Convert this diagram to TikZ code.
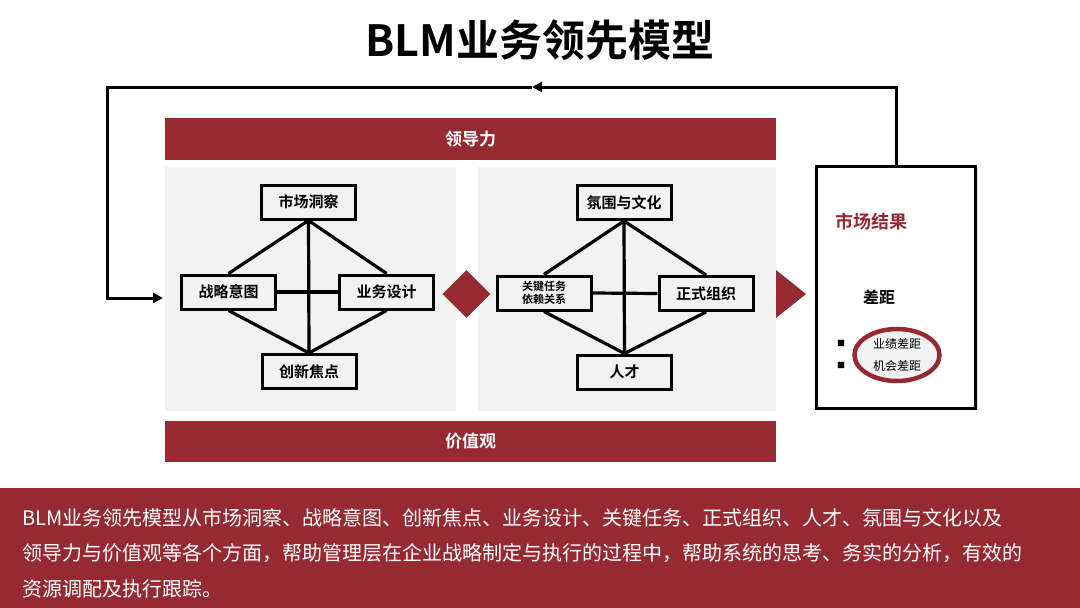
\documentclass[tikz,border=0pt]{standalone}
\usepackage{fontspec}
\setmainfont{Noto Sans CJK SC}[BoldFont={Noto Sans CJK SC Bold}]
\usetikzlibrary{
  arrows.meta,
  shapes.geometric,
  positioning,
  calc,
  shadows
}
\definecolor{blmred}{HTML}{962A32}
\definecolor{panelgray}{HTML}{F2F2F2}
\tikzset{
  % Red banner bar
  bannerbar/.style={
    fill=blmred, inner sep=0pt,
    minimum width=611pt, minimum height=42pt,
    text=white, font=\fontsize{17}{20}\selectfont\bfseries
  },
  % Grey panel
  panel/.style={
    fill=panelgray, inner sep=0pt,
    minimum width=#1, minimum height=244pt
  },
  % Element box
  elembox/.style={
    draw=black, line width=3pt, fill=panelgray, inner sep=0pt,
    minimum width=94pt, minimum height=34pt, align=center,
    font=\fontsize{15}{17}\selectfont\bfseries
  },
  % Links between boxes
  link/.style={
    line width=3.2pt
  },
  % Feedback loop arrow
  loopline/.style={
    line width=3pt, -{Triangle[length=10pt,width=10pt]}
  },
}

\begin{document}
\begin{tikzpicture}[x=1pt, y=-1pt]

\useasboundingbox (0,0) rectangle (1080,608);

% ── Title ────────────────────────────────────────────────────────────────────
\node[font=\fontsize{43}{47}\selectfont\bfseries] (title) at (540,40)
  {BLM业务领先模型};

% ── Banners and panels ───────────────────────────────────────────────────────
\node[bannerbar] (leadbar) at (470.5,139) {领导力};
\node[bannerbar, minimum height=41pt] (valbar) at (470.5,441.5) {价值观};

\node[panel=291pt] (leftpanel) at (310.5,289) {};
\node[panel=298pt] (rightpanel) at (627,289) {};

% ── Left panel: strategy ─────────────────────────────────────────────────────
\node[elembox] (mkt) at (308.5,202) {市场洞察};
\node[elembox] (strat) at (228.5,292) {战略意图};
\node[elembox] (bizdesign) at (386.5,292) {业务设计};
\node[elembox] (innov) at (309,371.5) {创新焦点};

\draw[link] (mkt.south) -- (strat.north);
\draw[link] (mkt.south) -- (bizdesign.north);
\draw[link] (mkt.south) -- (innov.north);
\draw[link] (strat.east) -- (bizdesign.west);
\draw[link] (innov.north) -- (strat.south);
\draw[link] (innov.north) -- (bizdesign.south);

% ── Right panel: execution ───────────────────────────────────────────────────
\node[elembox] (culture) at (624,202.5) {氛围与文化};
\node[elembox, font=\fontsize{11}{13}\selectfont\bfseries]
  (keytask) at (544,293) {关键任务\\依赖关系};
\node[elembox] (formalorg) at (706,293.5) {正式组织};
\node[elembox] (talent) at (624.5,372) {人才};

\draw[link] (culture.south) -- (keytask.north);
\draw[link] (culture.south) -- (formalorg.north);
\draw[link] (culture.south) -- (talent.north);
\draw[link] (keytask.east) -- (formalorg.west);
\draw[link] (talent.north) -- (keytask.south);
\draw[link] (talent.north) -- (formalorg.south);

% ── Connectors between stages ────────────────────────────────────────────────
\node[diamond, fill=blmred, inner sep=0pt, minimum width=48pt,
      minimum height=48pt] (joint) at (466.5,294) {};
\fill[blmred] (776,270) -- (806,294) -- (776,318) -- cycle;

% ── Market result ────────────────────────────────────────────────────────────
\node[draw=black, line width=3pt, fill=white, inner sep=0pt,
      minimum width=159pt, minimum height=242pt,
      drop shadow={opacity=0.2, shadow xshift=2pt, shadow yshift=-2pt}]
  (result) at (896,287) {};

\node[font=\fontsize{18}{20}\selectfont\bfseries, text=blmred]
  (resulttitle) at (871,222) {市场结果};
\node[font=\fontsize{16}{18}\selectfont\bfseries]
  (gaptitle) at (879,297) {差距};

\node[ellipse, draw=blmred, line width=4.5pt, fill=panelgray,
      minimum width=85pt, minimum height=52pt, inner sep=0pt,
      align=center, font=\fontsize{12}{22}\selectfont]
  (gaps) at (897,355) {业绩差距\\机会差距};
\node[font=\fontsize{8}{9}\selectfont] (bulletA) at (841,343) {■};
\node[font=\fontsize{8}{9}\selectfont] (bulletB) at (841,365) {■};

% ── Feedback loop ────────────────────────────────────────────────────────────
\coordinate (topmid) at (532,87);
\coordinate (loopin) at (163,298);
\draw[loopline] (result.north) |- (topmid);
\draw[loopline] (topmid) -| ($(loopin)+(-56,0)$) -- (loopin);

% ── Description footer ───────────────────────────────────────────────────────
\fill[blmred] (0,488) rectangle (1080,608);
\node[anchor=north west, inner sep=0pt, align=left, text=white,
      font=\fontsize{20}{35.5}\selectfont]
  (desc) at (22,508)
  {BLM业务领先模型从市场洞察、战略意图、创新焦点、业务设计、关键任务、正式组织、人才、氛围与文化以及\\
   领导力与价值观等各个方面，帮助管理层在企业战略制定与执行的过程中，帮助系统的思考、务实的分析，有效的\\
   资源调配及执行跟踪。};

\end{tikzpicture}
\end{document}
